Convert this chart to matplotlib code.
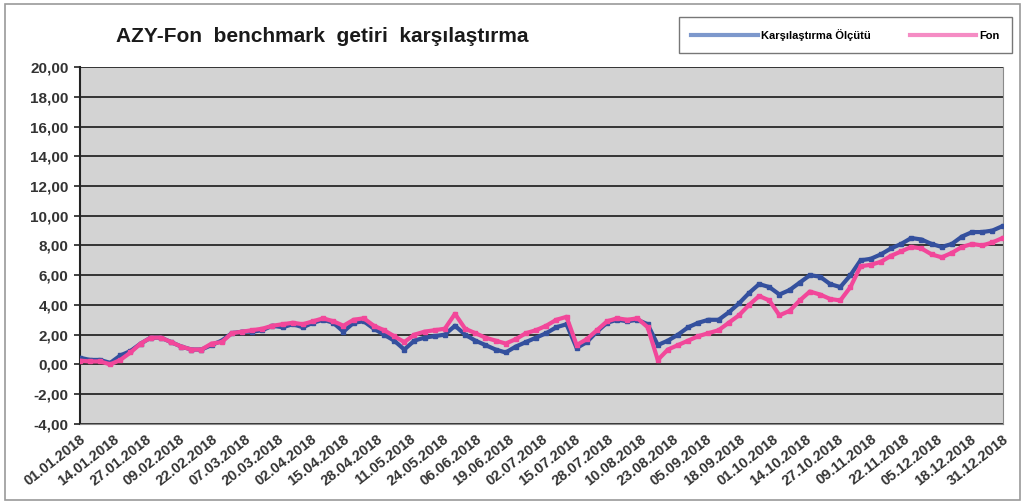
import numpy as np
import pandas as pd
import matplotlib
matplotlib.use("Agg")
import matplotlib.pyplot as plt
import matplotlib.patches as patches
from matplotlib import font_manager

# ---- data ----
title = "AZY-Fon  benchmark  getiri  karşılaştırma"
series_names = ["Karşılaştırma Ölçütü", "Fon"]
start_date = "2018-01-01"
day_step = 4  # one reading every 4 days through the year
benchmark = [0.45, 0.3, 0.3, 0.1, 0.6, 0.9, 1.4, 1.8, 1.8, 1.5,
             1.2, 1.0, 1.0, 1.3, 1.6, 2.1, 2.2, 2.2, 2.3, 2.6,
             2.5, 2.7, 2.5, 2.8, 3.0, 2.8, 2.2, 2.8, 2.9, 2.4,
             2.0, 1.6, 1.0, 1.6, 1.8, 1.9, 2.0, 2.6, 2.0, 1.6,
             1.3, 1.0, 0.8, 1.2, 1.5, 1.8, 2.1, 2.5, 2.7, 1.1,
             1.5, 2.2, 2.8, 3.0, 2.9, 3.0, 2.7, 1.3, 1.6, 2.0,
             2.5, 2.8, 3.0, 3.0, 3.5, 4.1, 4.8, 5.4, 5.2, 4.7,
             5.0, 5.5, 6.0, 5.9, 5.4, 5.2, 6.0, 7.0, 7.1, 7.4,
             7.8, 8.1, 8.5, 8.4, 8.1, 7.9, 8.1, 8.6, 8.9, 8.9,
             9.0, 9.3]
fund = [0.25, 0.2, 0.2, 0.0, 0.3, 0.8, 1.4, 1.8, 1.8, 1.5,
        1.2, 1.0, 1.0, 1.4, 1.5, 2.1, 2.2, 2.3, 2.4, 2.6,
        2.7, 2.8, 2.7, 2.9, 3.1, 2.9, 2.6, 3.0, 3.1, 2.6,
        2.3, 1.9, 1.5, 2.0, 2.2, 2.3, 2.4, 3.4, 2.4, 2.1,
        1.8, 1.6, 1.4, 1.7, 2.1, 2.3, 2.6, 3.0, 3.2, 1.3,
        1.7, 2.3, 2.9, 3.1, 3.0, 3.1, 2.5, 0.3, 1.0, 1.3,
        1.6, 1.9, 2.1, 2.3, 2.8, 3.3, 4.0, 4.6, 4.3, 3.3,
        3.6, 4.3, 4.9, 4.7, 4.4, 4.3, 5.2, 6.6, 6.7, 6.9,
        7.3, 7.6, 7.9, 7.8, 7.4, 7.2, 7.5, 7.9, 8.1, 8.0,
        8.2, 8.5]
tick_labels = ["01.01.2018", "14.01.2018", "27.01.2018", "09.02.2018", "22.02.2018",
               "07.03.2018", "20.03.2018", "02.04.2018", "15.04.2018", "28.04.2018",
               "11.05.2018", "24.05.2018", "06.06.2018", "19.06.2018", "02.07.2018",
               "15.07.2018", "28.07.2018", "10.08.2018", "23.08.2018", "05.09.2018",
               "18.09.2018", "01.10.2018", "14.10.2018", "27.10.2018", "09.11.2018",
               "22.11.2018", "05.12.2018", "18.12.2018", "31.12.2018"]
y_ticks = [-4, -2, 0, 2, 4, 6, 8, 10, 12, 14, 16, 18, 20]

dates = pd.date_range(start_date, periods=len(benchmark), freq=f"{day_step}D")
tick_dates = pd.to_datetime(tick_labels, format="%d.%m.%Y")

# ---- fonts ----
plt.rcParams["font.family"] = ["Liberation Sans", "DejaVu Sans"]

fig = plt.figure(figsize=(10.23, 5.04), dpi=100)
fig.patch.set_facecolor("white")
fig.add_artist(patches.Rectangle((0.005, 0.008), 0.992, 0.985, transform=fig.transFigure,
                                 fill=False, edgecolor="#9a9a9a", linewidth=1.2))

ax = fig.add_axes([0.078, 0.159, 0.902, 0.708])
ax.set_facecolor("#d3d3d3")

blue = "#34509e"
pink = "#f2479a"
ax.plot(dates, benchmark, color=blue, lw=3, marker="s", ms=3, zorder=3,
        label=series_names[0])
ax.plot(dates, fund, color=pink, lw=3, marker="s", ms=3, zorder=4,
        label=series_names[1])

ax.set_ylim(-4, 20)
ax.set_yticks(y_ticks)
ax.set_yticklabels([f"{v:.2f}".replace(".", ",") for v in y_ticks],
                   fontsize=11, fontweight="bold", color="#333333")
ax.set_xlim(tick_dates[0], tick_dates[-1])
ax.set_xticks(tick_dates)
ax.set_xticklabels(tick_labels, rotation=38, ha="right", rotation_mode="anchor",
                   fontsize=10.5, fontweight="bold", color="#333333")
ax.tick_params(axis="x", length=0, pad=6)
ax.tick_params(axis="y", length=4, width=1.2, color="#222222", pad=4)

ax.grid(axis="y", color="#333333", linewidth=1.4)
ax.set_axisbelow(True)
ax.spines["top"].set_visible(False)
ax.spines["left"].set_color("#222222")
ax.spines["left"].set_linewidth(1.5)
ax.spines["right"].set_color("#8a8a8a")
ax.spines["bottom"].set_color("#8a8a8a")

fig.text(0.113, 0.928, title, fontsize=15, fontweight="bold", color="#1a1a1a",
         va="center", ha="left")

leg = fig.legend(loc="upper right", bbox_to_anchor=(0.995, 0.978), ncol=2,
                 frameon=True, fancybox=False, edgecolor="#555555",
                 prop={"size": 8, "weight": "bold"}, handlelength=6,
                 columnspacing=3.5, borderpad=1.1, handletextpad=0.3)
for h in leg.legend_handles:
    h.set_marker("")
    h.set_linewidth(3)
leg.legend_handles[0].set_color("#7d98cc")
leg.legend_handles[1].set_color("#f58cc4")

fig.savefig("out.png", dpi=100)
